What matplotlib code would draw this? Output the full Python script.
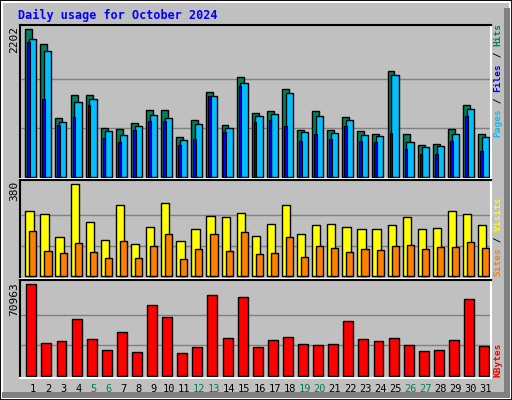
import matplotlib
matplotlib.use("Agg")
import matplotlib.pyplot as plt
from matplotlib.patches import Rectangle
import numpy as np

days = list(range(1, 32))
weekend = [5, 6, 12, 13, 19, 20, 26, 27]
hits = [2202,1978,872,1216,1216,723,708,798,992,992,588,842,1261,768,1485,947,
        977,1305,693,977,693,887,678,633,1574,633,469,484,708,1066,633]
files = [2058,1873,812,1111,1156,678,618,753,917,872,544,783,1201,723,1395,902,
         932,1246,663,902,648,842,618,603,1514,514,439,454,633,1006,588]
pages = [2013,1156,768,887,1066,573,514,693,827,827,469,558,1201,663,1350,812,
         842,753,529,633,558,753,529,514,648,409,334,334,529,902,379]
visits = [268,256,161,380,223,149,293,132,202,302,145,194,248,244,260,165,
          215,293,173,211,215,202,194,194,211,244,194,198,268,256,211]
sites = [186,103,95,136,99,74,145,74,124,173,70,112,173,103,182,91,
         95,161,78,124,116,99,112,107,124,128,112,120,120,140,116]
kbytes = [70963,25122,26676,43769,28230,19683,33668,18129,54646,45322,17352,22014,
          62416,29007,60862,22014,27453,29784,24345,23568,24345,42215,28230,26676,
          29007,23568,18906,19683,27453,59308,22791]

BG = "#C0C0C0"
fig = plt.figure(figsize=(5.12, 4.0), dpi=100, facecolor=BG)
W, H = 512, 400
def fc(x, y):
    return x / W, 1 - y / H

# borders
fig.patches.append(Rectangle((0, 0), 1, 1, transform=fig.transFigure, fill=False, ec="black", lw=2))
fig.patches.append(Rectangle((2/W, 2/H), 1-4/W, 1-4/H, transform=fig.transFigure, fill=False, ec="white", lw=1.5))
fig.patches.append(Rectangle((1-8/W, 2/H), 6/W, 1-10/H, transform=fig.transFigure, color="#808080", lw=0))
fig.patches.append(Rectangle((2/W, 2/H), 1-4/W, 6/H, transform=fig.transFigure, color="#808080", lw=0))

mono = "DejaVu Sans Mono"
fig.text(*fc(18, 15), "Daily usage for October 2024", color="#0000FF", family=mono,
         fontweight="bold", fontsize=8.5, va="center", ha="left")

x0, x1 = 20.3, 490.5
n = np.arange(31)
def make_ax(ytop, ybot):
    l, b = x0 / W, 1 - ybot / H
    ax = fig.add_axes([l, b, (x1 - x0) / W, (ybot - ytop) / H])
    ax.set_facecolor(BG)
    ax.set_xlim(0, 31.15)
    ax.set_xticks([]); ax.set_yticks([])
    for s in ["left", "top"]:
        ax.spines[s].set_color("black"); ax.spines[s].set_linewidth(1.5)
    for s in ["right", "bottom"]:
        ax.spines[s].set_color("white"); ax.spines[s].set_linewidth(1.5)
    return ax

# top panel
ax1 = make_ax(25, 178.5)
m1 = max(hits)
ax1.set_ylim(-m1*0.012, m1*1.03)
for f in (1/3, 2/3):
    ax1.axhline(m1*f, color="#808080", lw=1, zorder=0)
ax1.bar(n+0.33, hits, width=0.46, align="edge", color="#00805C", ec="black", lw=1)
ax1.bar(n+0.46, pages, width=0.18, align="edge", color="#0000FF", ec="black", lw=0.8, zorder=3)
ax1.bar(n+0.58, files, width=0.48, align="edge", color="#00C0FF", ec="black", lw=1, zorder=2)

# middle panel
ax2 = make_ax(180, 279)
m2 = max(visits)
ax2.set_ylim(-m2*0.03, m2*1.047)
for f in (1/3, 2/3):
    ax2.axhline(m2*f, color="#808080", lw=1, zorder=0)
ax2.bar(n+0.33, visits, width=0.55, align="edge", color="#FFFF00", ec="black", lw=1)
ax2.bar(n+0.6, sites, width=0.47, align="edge", color="#FF8000", ec="black", lw=1)

# bottom panel
ax3 = make_ax(280.3, 377.7)
m3 = max(kbytes)
ax3.set_ylim(-m3*0.022, m3*1.044)
for f in (1/3, 2/3):
    ax3.axhline(m3*f, color="#808080", lw=1, zorder=0)
ax3.bar(n+0.4, kbytes, width=0.66, align="edge", color="#FF0000", ec="black", lw=1)

# max labels
for y, lab in [(26, str(m1)), (181, str(m2)), (282, str(m3))]:
    fig.text(*fc(14, y), lab, rotation=90, family=mono, fontsize=8, ha="center", va="top")

# day labels
for d in days:
    px = x0 + (d - 1 + 0.84) * 15.1
    fig.text(*fc(px, 389), str(d), family=mono, fontsize=7.5, ha="center", va="center",
             color="#00805C" if d in weekend else "black")

# right legends
FS = 6.8
step = 0.602 * FS * 100 / 72
def vlegend(ybot, parts):
    y = ybot
    for txt, col in parts:
        fig.text(*fc(498, y), txt, rotation=90, family=mono, fontsize=FS,
                 fontweight="bold", color=col, ha="center", va="bottom")
        y -= len(txt) * step
vlegend(137, [("Pages", "#00C0FF"), (" / ", "black"), ("Files", "#0000FF"), (" / ", "black"), ("Hits", "#00805C")])
vlegend(276, [("Sites", "#FF8000"), (" / ", "black"), ("Visits", "#FFFF00")])
vlegend(377, [("KBytes", "#FF0000")])

fig.savefig("out.png", dpi=100, facecolor=BG)
